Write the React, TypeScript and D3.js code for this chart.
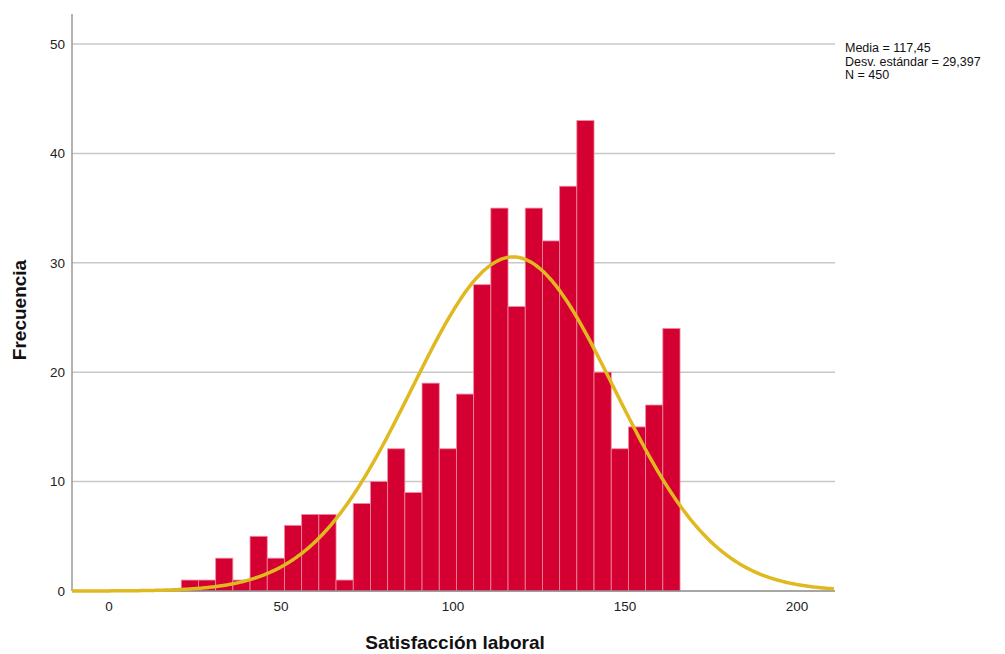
import React from "react";
import * as d3 from "d3";

const binStart = 21;
const binWidth = 5;
const counts = [1, 1, 3, 1, 5, 3, 6, 7, 7, 1, 8, 10, 13, 9, 19, 13, 18, 28, 35, 26, 35, 32, 37, 43, 20, 13, 15, 17, 24];
const xTicks = [0, 50, 100, 150, 200];
const yTicks = [0, 10, 20, 30, 40, 50];
const mean = 117.45;
const sd = 29.397;
const n = 450;
const statsLines = ["Media = 117,45", "Desv. estándar = 29,397", "N = 450"];

export default function App() {
  const W = 1005, H = 654;
  const left = 72, right = 835, top = 14, bottom = 591;
  const x = d3.scaleLinear().domain([-10.76, 211.05]).range([left, right]);
  const y = d3.scaleLinear().domain([0, 50]).range([bottom, 44]);
  const bins = counts.map((c, i) => ({ x0: binStart + i * binWidth, x1: binStart + (i + 1) * binWidth, c }));
  const pdf = (v: number) => (n * binWidth) / (sd * Math.sqrt(2 * Math.PI)) * Math.exp(-0.5 * ((v - mean) / sd) ** 2);
  const pts = d3.range(-10.76, 211.06, 0.5).map((v) => [v, pdf(v)] as [number, number]);
  const line = d3.line<[number, number]>().x((d) => x(d[0])).y((d) => y(d[1])).curve(d3.curveBasis);
  const font = "'Liberation Sans', Arial, sans-serif";
  return (
    <svg width={W} height={H} style={{ position: "absolute", left: 0, top: 0, background: "#fff" }}>
      {yTicks.filter((t) => t > 0).map((t) => (
        <line key={t} x1={left} x2={right} y1={y(t)} y2={y(t)} stroke="#c8c8c8" strokeWidth={1.5} />
      ))}
      {bins.map((b, i) => (
        <rect key={i} x={x(b.x0)} y={y(b.c)} width={x(b.x1) - x(b.x0)} height={bottom - y(b.c)}
          fill="#d50032" stroke="#f08aa0" strokeWidth={0.8} />
      ))}
      <line x1={left} x2={right} y1={bottom} y2={bottom} stroke="#888" strokeWidth={1.5} />
      <line x1={left} x2={left} y1={top} y2={bottom} stroke="#999" strokeWidth={1.5} />
      <path d={line(pts) || ""} fill="none" stroke="#e0b820" strokeWidth={3.5} />
      {yTicks.map((t) => (
        <text key={t} x={65} y={y(t)} dy="0.35em" textAnchor="end" fontFamily={font} fontSize={13.5} fill="#222">{t}</text>
      ))}
      {xTicks.map((t) => (
        <text key={t} x={x(t)} y={611} textAnchor="middle" fontFamily={font} fontSize={13.5} fill="#222">{t}</text>
      ))}
      <text x={455} y={649} textAnchor="middle" fontFamily={font} fontSize={19} fontWeight="bold" fill="#111">Satisfacción laboral</text>
      <text transform={`translate(26, 310) rotate(-90)`} textAnchor="middle" fontFamily={font} fontSize={19} fontWeight="bold" fill="#111">Frecuencia</text>
      {statsLines.map((s, i) => (
        <text key={i} x={845} y={52 + i * 13.5} fontFamily={font} fontSize={12.5} fill="#111">{s}</text>
      ))}
    </svg>
  );
}
